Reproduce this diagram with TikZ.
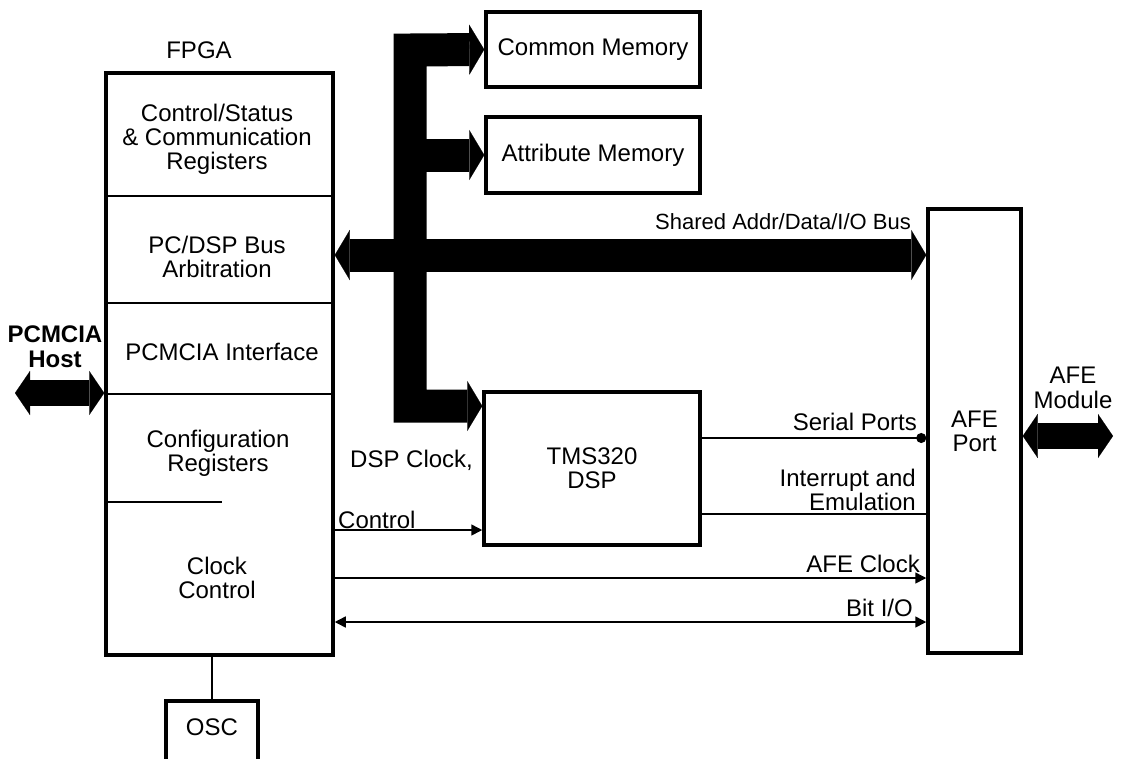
\documentclass[tikz,border=0pt]{standalone}
\usepackage{fontspec}
\setmainfont{Liberation Sans}
\usetikzlibrary{arrows.meta}

\begin{document}
\begin{tikzpicture}[
  x=1pt, y=-1pt,
  every node/.style={font=\fontsize{24}{24}\selectfont, align=center, inner sep=0pt},
  box/.style={draw, line width=3.5pt},
  sep/.style={line width=1.5pt},
  wire/.style={line width=1.5pt},
  tip/.style={-{Triangle[length=11pt,width=11pt]}},
  tips/.style={{Triangle[length=11pt,width=11pt]}-{Triangle[length=11pt,width=11pt]}},
  bus/.style={line width=33pt},
  fat/.style={-{Triangle[length=15pt,width=50pt,line width=0.1pt]}},
  fats/.style={{Triangle[length=15pt,width=50pt,line width=0.1pt]}-{Triangle[length=15pt,width=50pt,line width=0.1pt]}},
  port/.style={line width=26pt, {Triangle[length=15pt,width=44pt,line width=0.1pt]}-{Triangle[length=15pt,width=44pt,line width=0.1pt]}}
  ]

\clip (0,0) rectangle (1122,758);

\node[box, minimum width=227pt, minimum height=582pt] (fpga) at (219.5,364) {};
\node[box, minimum width=214pt, minimum height=75pt] (cmem) at (593,49.5) {Common Memory};
\node[box, minimum width=214pt, minimum height=76pt] (amem) at (593,155) {Attribute Memory};
\node[box, minimum width=216pt, minimum height=153pt] (dsp) at (592,468.5) {TMS320\\DSP};
\node[box, minimum width=93pt, minimum height=444pt] (afe) at (974.5,431) {AFE\\Port};
\node[box, minimum width=92pt, minimum height=90pt, anchor=north] (osc) at (212,699) {};

\node (fpgalbl) at (199,50) {FPGA};
\node (csr) at (217,139) {Control/Status\\\& Communication\\Registers};
\node (arb) at (217,257) {PC/DSP Bus\\Arbitration};
\node (pcif) at (222,352) {PCMCIA Interface};
\node (cfg) at (218,453) {Configuration\\Registers};
\node (clk) at (217,578) {Clock\\Control};
\node (osclbl) at (212,727) {OSC};

\draw[sep] (fpga.west |- 0,196) -- (fpga.east |- 0,196);
\draw[sep] (fpga.west |- 0,303) -- (fpga.east |- 0,303);
\draw[sep] (fpga.west |- 0,394) -- (fpga.east |- 0,394);
\draw[sep] (fpga.west |- 0,502) -- (222,502);

\draw[bus, fats] (cmem.west) -- (410,50) -- (410,406) -- (dsp.west |- 0,406);
\draw[bus, fat] (410,155) -- (amem.west);
\draw[bus, fats] (fpga.east |- 0,255) -- (afe.west |- 0,255);
\node[font=\fontsize{22}{22}\selectfont, anchor=east] (buslbl) at (911,222) {Shared Addr/Data/I/O Bus};

\coordinate (host) at (15,393);
\draw[port] (host) -- (fpga.west |- host);
\node[font=\fontsize{24}{25}\selectfont\bfseries] (hostlbl) at (55,347) {PCMCIA\\Host};

\coordinate (module) at (1113,436);
\draw[port] (afe.east |- module) -- (module);
\node[font=\fontsize{24}{25}\selectfont] (modlbl) at (1073,388) {AFE\\Module};

\draw[wire, -{Circle[length=10pt]}] (dsp.east |- 0,438) -- (afe.west |- 0,438);
\node[anchor=east] (serlbl) at (917,422) {Serial Ports};
\draw[wire] (dsp.east |- 0,514) -- (afe.west |- 0,514);
\node[anchor=east, align=right, font=\fontsize{24}{17}\selectfont] (intlbl) at (916,490) {Interrupt and\\Emulation};

\draw[wire, tip] (fpga.east |- 0,530) -- (dsp.west |- 0,530);
\node[anchor=west] (dspclk) at (350,460) {DSP Clock,};
\node[anchor=west] (dspctl) at (338,520) {Control};

\draw[wire, tip] (fpga.east |- 0,578) -- (afe.west |- 0,578);
\node[anchor=east] (clklbl) at (920,564) {AFE Clock};
\draw[wire, tips] (fpga.east |- 0,622) -- (afe.west |- 0,622);
\node[anchor=east] (biolbl) at (913,608) {Bit I/O};

\draw[sep] (osc.north) -- (osc.north |- fpga.south);

\end{tikzpicture}
\end{document}
